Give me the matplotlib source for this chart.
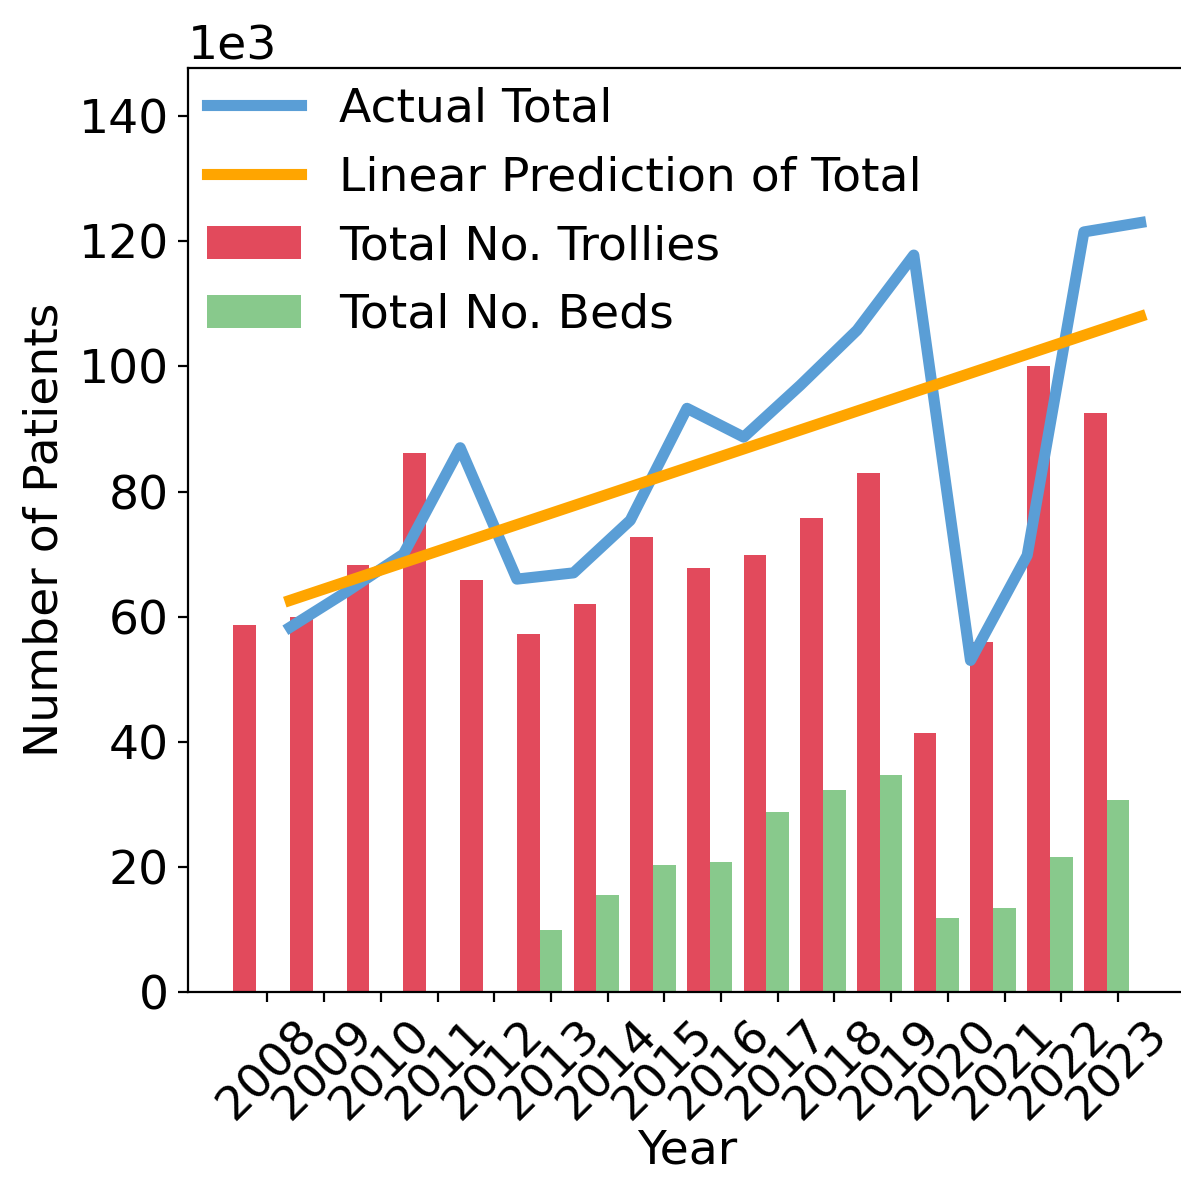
import numpy as np
import matplotlib.pyplot as plt

plt.rcParams['font.family'] = ['DejaVu Sans']
plt.rcParams['font.size'] = 17

years = ['2008', '2009', '2010', '2011', '2012', '2013', '2014', '2015',
         '2016', '2017', '2018', '2019', '2020', '2021', '2022', '2023']
actual_total = [58300, 64000, 70000, 87000, 66000, 67000, 75400, 93300,
                88700, 97000, 105800, 117800, 53000, 69800, 121500, 123000]
trollies = [58700, 60000, 68200, 86100, 65800, 57200, 62000, 72700,
            67800, 69800, 75800, 82900, 41400, 56000, 100000, 92500]
beds = [0, 0, 0, 0, 0, 9900, 15500, 20300,
        20800, 28800, 32300, 34700, 11800, 13400, 21600, 30700]
# linear fit end points (first and last year)
pred_years = [0, 15]
pred_values = [62600, 108000]

width = 0.4
x = np.arange(len(years))

fig = plt.figure(figsize=(5.905, 5.885), dpi=200)
ax = fig.add_axes([0.1592, 0.1572, 0.845, 0.785])

ax.plot(x + width, actual_total, color='#5a9ed6', linewidth=4, label='Actual Total')
ax.plot(np.array(pred_years) + width, pred_values, color='orange', linewidth=4,
        label='Linear Prediction of Total')
ax.bar(x - width, trollies, width=width, color='#e24a5c', label='Total No. Trollies')
ax.bar(x, beds, width=width, color='#88c98c', label='Total No. Beds')

ax.set_xticks(x)
ax.set_xticklabels(years, rotation=45)
ax.set_xlim(-1.4, 16.2)
ax.set_ylim(0, 147700)
ax.ticklabel_format(axis='y', style='sci', scilimits=(3, 3))
ax.set_xlabel('Year', labelpad=0)
ax.set_ylabel('Number of Patients')
ax.legend(loc='upper left', frameon=False, borderaxespad=0.0)

fig.savefig('out.png', dpi=200)
